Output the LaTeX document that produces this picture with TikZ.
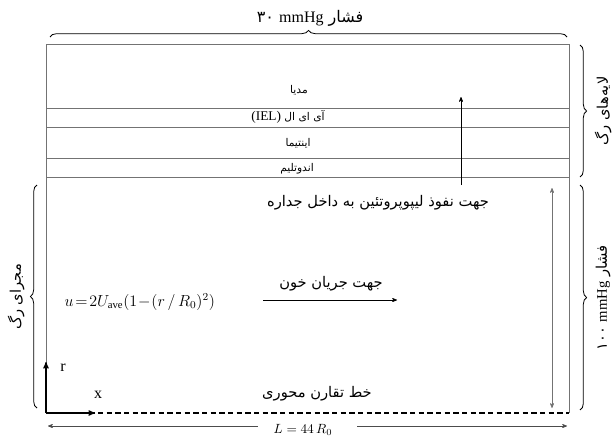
\documentclass[tikz,border=0pt]{standalone}
\usepackage{amsmath}
\usepackage{fontspec}
\setmainfont{Liberation Serif}
\newfontfamily\arabicfont[Script=Arabic]{DejaVu Sans}
\TeXXeTstate=1
\usetikzlibrary{arrows.meta, arrows, decorations.pathreplacing, positioning}

\newcommand{\fa}[1]{{\arabicfont\beginR #1\endR}}

\begin{document}
\begin{tikzpicture}[x=0.75pt,y=-0.75pt,>=stealth',
    wall/.style={draw=black!55,line width=0.6pt},
    layer/.style={font=\fontsize{8}{9}\selectfont,inner sep=1pt},
    note/.style={font=\fontsize{11}{12}\selectfont},
    brc/.style={decorate,decoration={brace,amplitude=5pt},semithick},
    side/.style={rotate=90,font=\fontsize{11}{12}\selectfont}]
    \useasboundingbox (0,0) rectangle (613,439);

    \coordinate (tl) at (46,44);
    \coordinate (tr) at (569,44);
    \coordinate (bl) at (46,413);
    \coordinate (br) at (569,413);
    \draw[wall] (bl) -- (tl) -- (tr) -- (br);
    \foreach \y/\n in {108/a,127/b,158/c,177/d}{
        \coordinate (l\n) at (46,\y);
        \coordinate (r\n) at (569,\y);
        \draw[wall] (l\n) -- (r\n);
    }
    \draw[thick,dash pattern=on 4pt off 2.5pt] (bl) -- (br);

    \node[layer] (media) at (299,90) {\fa{مدیا}};
    \node[layer] (iel) at (288,117) {\fa{آی ای ال \beginL{\rmfamily\fontsize{10}{11}\selectfont(IEL)}\endL}};
    \node[layer] (intima) at (298,143) {\fa{اینتیما}};
    \node[layer] (endo) at (297,169) {\fa{اندوتلیم}};

    \coordinate (pin) at (461,185);
    \coordinate (pout) at (461,97);
    \draw[->] (pin) -- (pout);
    \node[note] (pen) at (378,203) {\fa{جهت نفوذ لیپوپروتئین به داخل جداره}};

    \node[anchor=west,font=\large] (vel) at (60,302) {$u\!=\!2U_{\mathrm{ave}}(1\!-\!(r\,/\,R_0)^2)$};
    \coordinate (fs) at (263,300);
    \coordinate (fe) at (397,300);
    \draw[->] (fs) -- (fe);
    \node[note] (flow) at (331,284) {\fa{جهت جریان خون}};

    \coordinate (rtip) at (46,362);
    \coordinate (xtip) at (95,413);
    \draw[->,thick] (bl) -- (rtip);
    \draw[->,thick] (bl) -- (xtip);
    \node[font=\large] (rlab) at (63,368) {r};
    \node[font=\large] (xlab) at (98,395) {x};
    \node[note] (axis) at (317,394) {\fa{خط تقارن محوری}};

    \coordinate (la) at (48,426);
    \coordinate (gl) at (258,426);
    \coordinate (gr) at (357,426);
    \coordinate (lb) at (567,426);
    \draw[<-,black!70] (la) -- (gl);
    \draw[->,black!70] (gr) -- (lb);
    \node[inner sep=0pt] (len) at (303,430) {$L=44\,R_0$};

    \coordinate (ra) at (552,188);
    \coordinate (rb) at (552,408);
    \draw[<->,black!55] (ra) -- (rb);

    \coordinate (tba) at (50,37);
    \coordinate (tbb) at (567,37);
    \draw[brc] (tba) -- (tbb);
    \node[font=\fontsize{12}{13}\selectfont] (ptop) at (310,18) {\fa{فشار \beginL۳۰ {\rmfamily mmHg}\endL}};

    \coordinate (lba) at (37,408);
    \coordinate (lbb) at (37,185);
    \draw[brc] (lba) -- (lbb);
    \node[side] (lumen) at (16,297) {\fa{مجرای رگ}};

    \coordinate (rua) at (580,45);
    \coordinate (rub) at (580,177);
    \draw[brc] (rua) -- (rub);
    \node[side] (layers) at (603,111) {\fa{لایه‌های رگ}};

    \coordinate (rla) at (580,185);
    \coordinate (rlb) at (580,410);
    \draw[brc] (rla) -- (rlb);
    \node[side] (plow) at (603,298) {\fa{فشار \beginL۱۰۰ {\rmfamily mmHg}\endL}};
\end{tikzpicture}
\end{document}
